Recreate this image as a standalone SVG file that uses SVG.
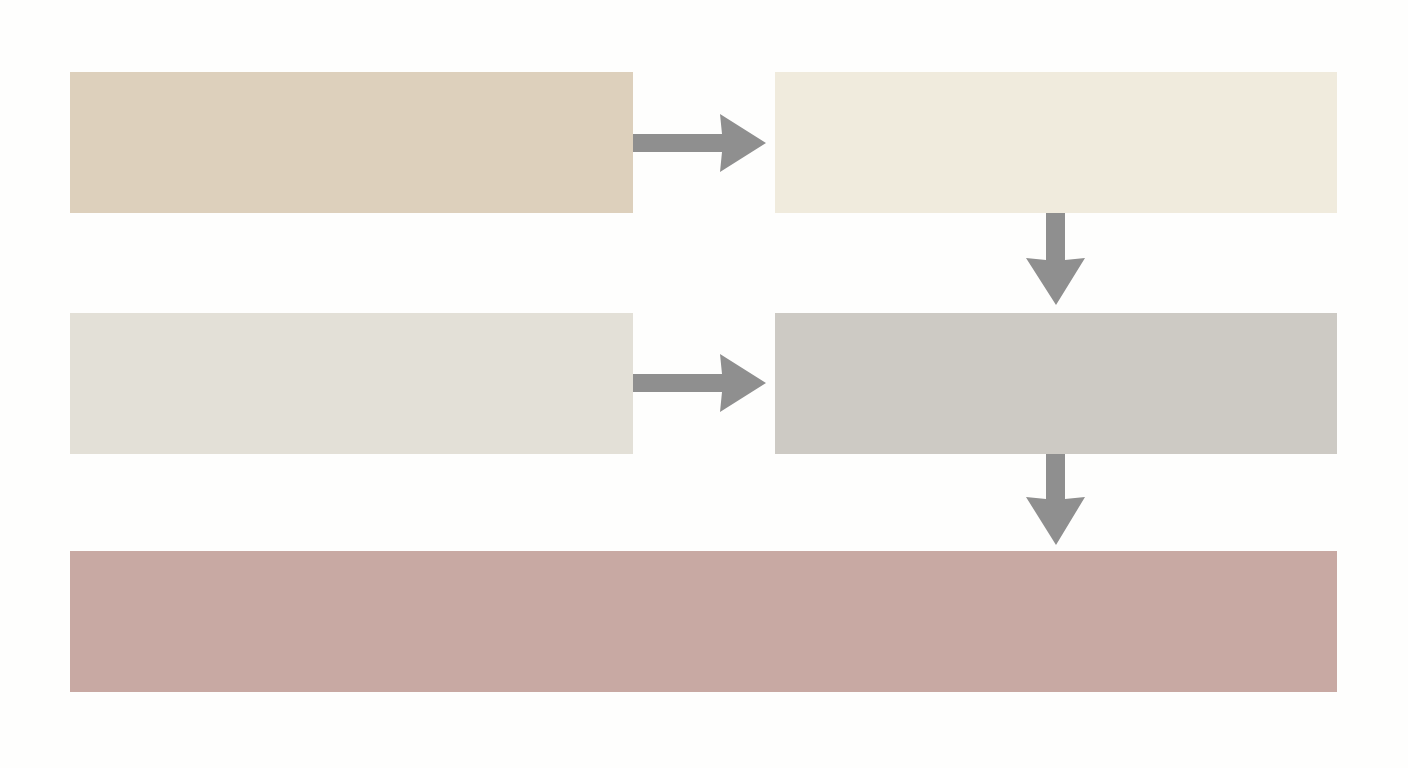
<svg xmlns="http://www.w3.org/2000/svg" width="1408" height="768" viewBox="0 0 1408 768">
<defs>
<style>
.arrow{fill:#8f8f8f;}
</style>
</defs>
<rect x="0" y="0" width="1408" height="768" fill="#fefefd"/>
<g id="node1"><rect x="70" y="72" width="563" height="141" fill="#ddd0bc"/></g>
<g id="node2"><rect x="775" y="72" width="562" height="141" fill="#f0ebdd"/></g>
<g id="node3"><rect x="70" y="313" width="563" height="141" fill="#e3e0d7"/></g>
<g id="node4"><rect x="775" y="313" width="562" height="141" fill="#cdcac4"/></g>
<g id="node5"><rect x="70" y="551" width="1267" height="141" fill="#c8a9a3"/></g>
<g id="connectors">
<polygon class="arrow" points="633,134 722,134 720,114 766,143 720,172 722,152 633,152"/>
<polygon class="arrow" points="633,374 722,374 720,354 766,383 720,412 722,392 633,392"/>
<polygon class="arrow" points="1046,213 1065,213 1065,260 1085,258 1056,305 1026,258 1046,260"/>
<polygon class="arrow" points="1046,454 1065,454 1065,499 1085,497 1056,545 1026,497 1046,499"/>
</g>
</svg>
